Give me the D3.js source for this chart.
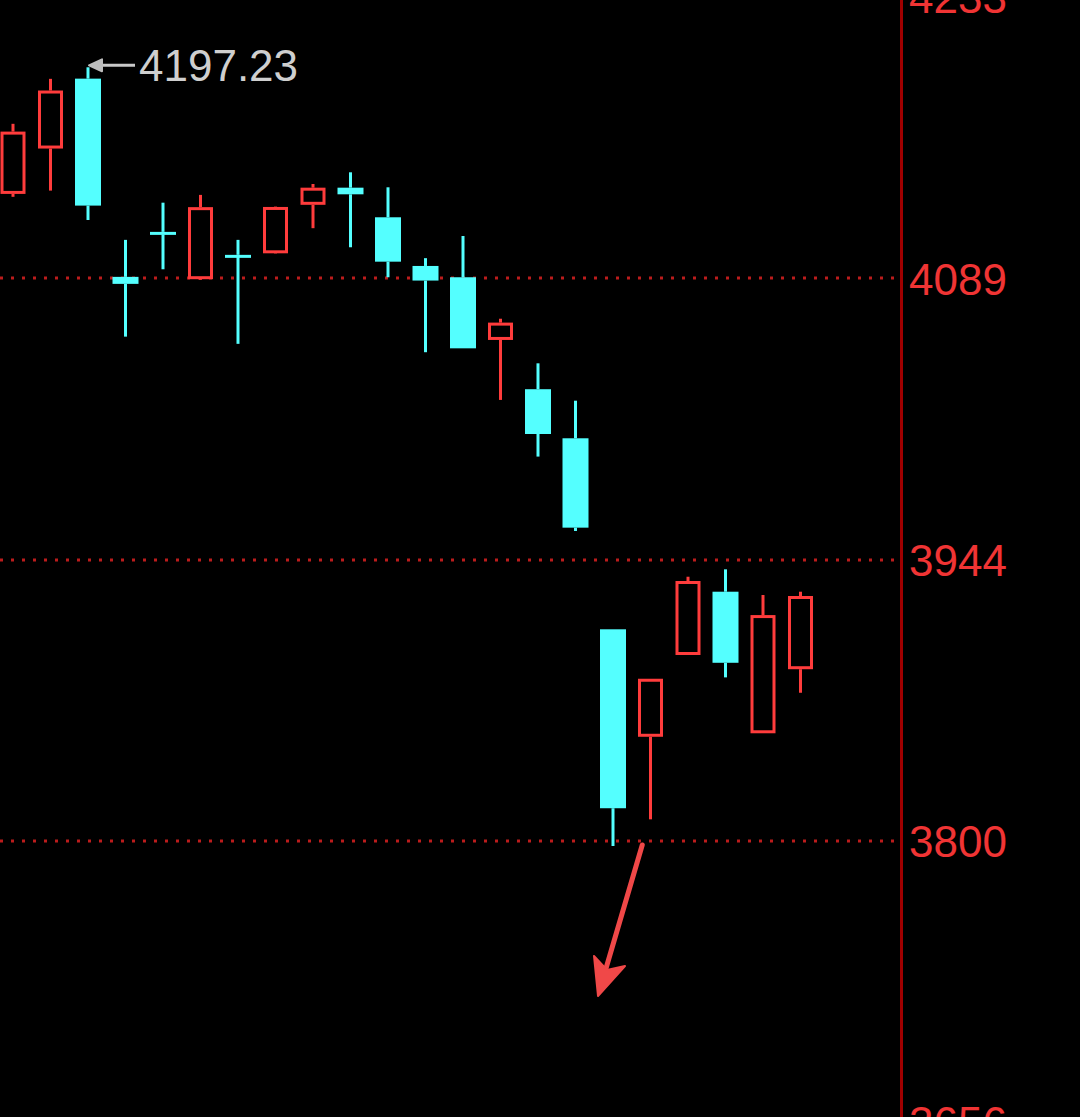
<!DOCTYPE html>
<head>
  <meta charset="utf-8">
  <script src="https://cdn.jsdelivr.net/npm/d3@7"></script>
  <style>
    html, body { margin: 0; padding: 0; background: #000; overflow: hidden; }
    svg { display: block; }
  </style>
</head>
<body>
<svg id="chart"></svg>
<script>
var width = 1080, height = 1117

// daily candles, left to right
var opens  = [4132.2, 4155.5, 4191.4, 4089.6, 4112.7, 4088.4, 4100.9, 4101.7, 4126.6, 4135.4, 4120.2,
              4095.2, 4089.4, 4057.2, 4031.9, 4006.7, 3908.6, 3853.4, 3895.4, 3927.9, 3855.2, 3888.1]
var highs  = [4168.2, 4191.3, 4197.23, 4108.6, 4127.7, 4131.7, 4108.6, 4125.7, 4137.3, 4143.3, 4135.6,
              4099.2, 4110.6, 4068.1, 4045.2, 4026.0, 3908.6, 3883.2, 3935.6, 3939.4, 3926.2, 3927.9]
var lows   = [4130.7, 4133.9, 4118.8, 4058.9, 4093.5, 4088.0, 4055.2, 4101.5, 4114.6, 4104.8, 4089.4,
              4050.9, 4052.9, 4026.4, 3997.3, 3959.1, 3797.3, 3811.0, 3895.4, 3883.9, 3855.2, 3876.0]
var closes = [4164.2, 4185.3, 4126.2, 4086.0, 4111.4, 4125.4, 4099.8, 4125.5, 4135.4, 4132.0, 4097.4,
              4087.7, 4052.9, 4066.1, 4008.9, 3960.8, 3816.7, 3883.2, 3933.4, 3891.4, 3915.9, 3925.7]

var tickValues = [4233.33, 4088.89, 3944.44, 3800, 3655.56]
var tickLabels = ['4233', '4089', '3944', '3800', '3656']

var maxLabel = '4197.23'
var maxIndex = 2

var red = '#ff3c3c', cyan = '#54ffff'

var candles = d3.range(opens.length).map(function (i) {
  return { i: i, o: opens[i], h: highs[i], l: lows[i], c: closes[i], up: closes[i] >= opens[i] }
})

var svg = d3.select('#chart').attr('width', width).attr('height', height)

svg.append('rect').attr('width', width).attr('height', height).attr('fill', '#000')

var x = d3.scaleLinear().domain([0, opens.length - 1]).range([13, 800.5])
var y = d3.scaleLinear().domain([3655.56, 4233.33]).range([1122, -3])
var axisX = 901

// dotted grid
svg.append('g').selectAll('line').data(tickValues)
  .enter().append('line')
  .attr('x1', 0).attr('x2', axisX - 3)
  .attr('y1', function (d) { return Math.round(y(d)) })
  .attr('y2', function (d) { return Math.round(y(d)) })
  .attr('stroke', '#bc1c1c')
  .attr('stroke-width', 3)
  .attr('stroke-dasharray', '3,8')

// price axis on the right
var axis = d3.axisRight(y)
  .tickValues(tickValues)
  .tickFormat(function (d, i) { return tickLabels[i] })
  .tickSize(0)
  .tickPadding(8)

var ax = svg.append('g').attr('transform', 'translate(' + axisX + ',0)').call(axis)
ax.select('.domain').attr('stroke', '#a00000').attr('stroke-width', 3)
ax.selectAll('text')
  .attr('fill', '#f03434')
  .attr('font-family', 'Liberation Sans, Arial, sans-serif')
  .attr('font-size', 44)
  .attr('dy', '0.36em')

var g = svg.append('g')
var bw = 25

var c = g.selectAll('g.candle').data(candles).enter().append('g').attr('class', 'candle')

// wicks
c.append('line')
  .attr('x1', function (d) { return x(d.i) }).attr('x2', function (d) { return x(d.i) })
  .attr('y1', function (d) { return y(d.h) })
  .attr('y2', function (d) { return y(Math.max(d.o, d.c)) })
  .attr('stroke', function (d) { return d.up ? red : cyan })
  .attr('stroke-width', 3)
c.append('line')
  .attr('x1', function (d) { return x(d.i) }).attr('x2', function (d) { return x(d.i) })
  .attr('y1', function (d) { return y(Math.min(d.o, d.c)) })
  .attr('y2', function (d) { return y(d.l) })
  .attr('stroke', function (d) { return d.up ? red : cyan })
  .attr('stroke-width', 3)

// bodies
c.filter(function (d) { return d.up }).append('rect')
  .attr('x', function (d) { return x(d.i) - bw / 2 + 1.5 })
  .attr('width', bw - 3)
  .attr('y', function (d) { return y(d.c) + 1.5 })
  .attr('height', function (d) { return Math.max(0, y(d.o) - y(d.c) - 3) })
  .attr('fill', '#000')
  .attr('stroke', red)
  .attr('stroke-width', 3)

c.filter(function (d) { return !d.up }).append('rect')
  .attr('x', function (d) { return x(d.i) - (bw + 1) / 2 })
  .attr('width', bw + 1)
  .attr('y', function (d) { return y(d.o) })
  .attr('height', function (d) { return Math.max(3, y(d.c) - y(d.o)) })
  .attr('fill', cyan)

// max marker
var my = y(highs[maxIndex]) - 2
var mx = x(maxIndex) + 1
svg.append('line')
  .attr('x1', 135).attr('x2', mx + 10)
  .attr('y1', my).attr('y2', my)
  .attr('stroke', '#c8c8c8').attr('stroke-width', 3)
svg.append('path')
  .attr('d', 'M' + mx + ',' + my + 'L' + (mx + 13) + ',' + (my - 6) + 'L' + (mx + 13) + ',' + (my + 6) + 'Z')
  .attr('fill', '#bdbdbd').attr('stroke', '#bdbdbd').attr('stroke-width', 2).attr('stroke-linejoin', 'round')
svg.append('text')
  .attr('x', 139).attr('y', my)
  .attr('dy', '0.36em')
  .attr('fill', '#cfcfcf')
  .attr('font-family', 'Liberation Sans, Arial, sans-serif')
  .attr('font-size', 44)
  .text(maxLabel)

// hand-drawn red arrow below the low
var lowY = y(lows[16])
var sx = x(16.78), sy = lowY - 1
var ex = x(15.6), ey = lowY + 150
svg.append('path')
  .attr('d', 'M' + sx + ',' + sy + 'L' + (ex + 4) + ',' + (ey - 14))
  .attr('stroke', '#f04848').attr('stroke-width', 5).attr('stroke-linecap', 'round')
svg.append('path')
  .attr('d', 'M' + ex + ',' + ey + 'L' + (ex - 4) + ',' + (ey - 40) + 'L' + (ex + 9) + ',' + (ey - 26) + 'L' + (ex + 27) + ',' + (ey - 30) + 'Z')
  .attr('fill', '#f04848').attr('stroke', '#f04848').attr('stroke-width', 2).attr('stroke-linejoin', 'round')
</script>
</body>
